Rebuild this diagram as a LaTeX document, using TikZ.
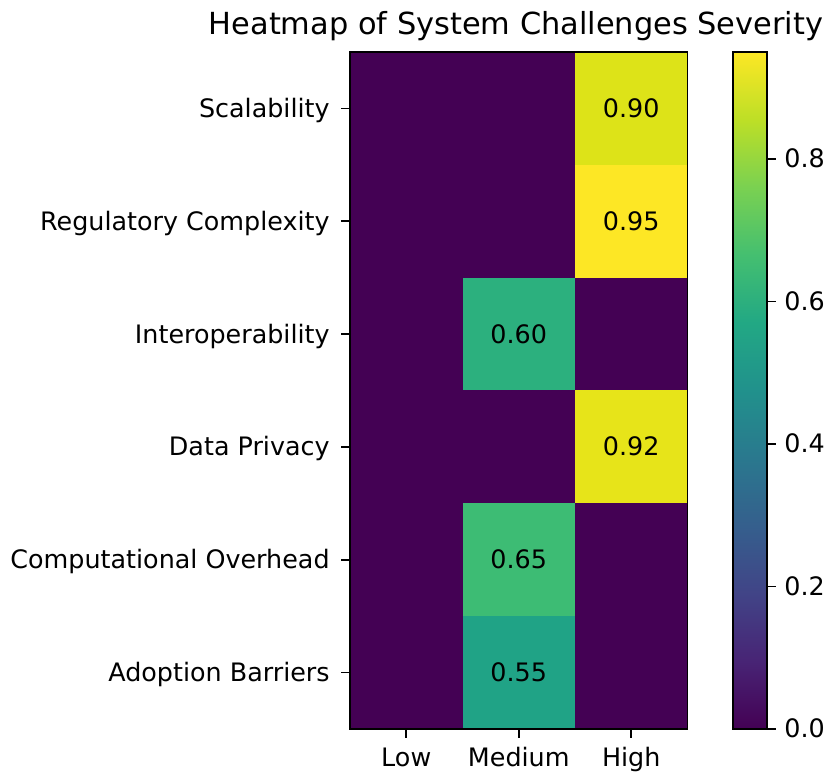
\documentclass[tikz,border=0pt]{standalone}
\usepackage{fontspec}
\setmainfont{DejaVu Sans}
\definecolor{v00}{RGB}{68,1,84}
\definecolor{v01}{RGB}{72,36,117}
\definecolor{v02}{RGB}{65,68,135}
\definecolor{v03}{RGB}{53,95,141}
\definecolor{v04}{RGB}{42,120,142}
\definecolor{v05}{RGB}{33,145,140}
\definecolor{v06}{RGB}{34,168,132}
\definecolor{v07}{RGB}{68,191,112}
\definecolor{v08}{RGB}{122,209,81}
\definecolor{v09}{RGB}{189,223,38}
\definecolor{v10}{RGB}{253,231,37}
\definecolor{c55}{RGB}{32,163,134}
\definecolor{c60}{RGB}{44,176,126}
\definecolor{c65}{RGB}{61,188,116}
\definecolor{c90}{RGB}{221,227,24}
\definecolor{c92}{RGB}{231,228,25}
\definecolor{c95}{RGB}{253,231,37}
\pgfdeclareverticalshading{viridis}{100bp}{color(0bp)=(v00); color(25bp)=(v00); color(30bp)=(v01); color(35bp)=(v02); color(40bp)=(v03); color(45bp)=(v04); color(50bp)=(v05); color(55bp)=(v06); color(60bp)=(v07); color(65bp)=(v08); color(70bp)=(v09); color(75bp)=(v10); color(100bp)=(v10)}
\begin{document}
\begin{tikzpicture}[x=0.5pt,y=-0.5pt,
  ticklab/.style={font=\fontsize{12.7}{15}\selectfont, inner sep=0pt},
  cellval/.style={font=\fontsize{12.7}{15}\selectfont, inner sep=0pt, anchor=base, text=black},
  titlelab/.style={font=\fontsize{15.2}{18}\selectfont, inner sep=0pt, anchor=base},
  frame/.style={line width=0.8pt, draw=black},
  tickmark/.style={line width=0.8pt, draw=black}]
\useasboundingbox (0,0) rectangle (825,774);
\fill[white] (0,0) rectangle (825,774);
% heatmap cells
\fill[v00] (350,52) rectangle (687.5,729);
\fill[c90] (575,52) rectangle (687.5,164.83);
\fill[c95] (575,164.83) rectangle (687.5,277.67);
\fill[c60] (462.5,277.67) rectangle (575,390.5);
\fill[c92] (575,390.5) rectangle (687.5,503.33);
\fill[c65] (462.5,503.33) rectangle (575,616.17);
\fill[c55] (462.5,616.17) rectangle (575,729);
\draw[frame] (350,52) rectangle (687.5,729);
% cell values
\node[cellval] (v1) at (631.25,117.4) {0.90};
\node[cellval] (v2) at (631.25,230.25) {0.95};
\node[cellval] (v3) at (518.75,343.1) {0.60};
\node[cellval] (v4) at (631.25,455.9) {0.92};
\node[cellval] (v5) at (518.75,568.75) {0.65};
\node[cellval] (v6) at (518.75,681.6) {0.55};
% y ticks
\foreach \yc/\lab [count=\i] in {108.42/Scalability, 221.25/Regulatory Complexity, 334.08/Interoperability, 446.92/Data Privacy, 559.75/Computational Overhead, 672.58/Adoption Barriers}{
  \draw[tickmark] (341,\yc) -- (350,\yc);
  \node[ticklab, anchor=base east] (ylab\i) at (330,\yc+9) {\lab};
}
% x ticks
\foreach \xc/\lab [count=\i] in {406.25/Low, 518.75/Medium, 631.25/High}{
  \draw[tickmark] (\xc,729) -- (\xc,738);
  \node[ticklab, anchor=base] (xlab\i) at (\xc,767) {\lab};
}
% title
\node[titlelab] (title) at (516,35) {Heatmap of System Challenges Severity};
% colorbar
\shade[shading=viridis] (733,52) rectangle (767,729);
\draw[frame] (733,52) rectangle (767,729);
\foreach \yc/\lab [count=\i] in {729/0.0, 586.5/0.2, 444/0.4, 301.4/0.6, 158.9/0.8}{
  \draw[tickmark] (767,\yc) -- (776,\yc);
  \node[ticklab, anchor=base west] (clab\i) at (784,\yc+9) {\lab};
}
\end{tikzpicture}
\end{document}
